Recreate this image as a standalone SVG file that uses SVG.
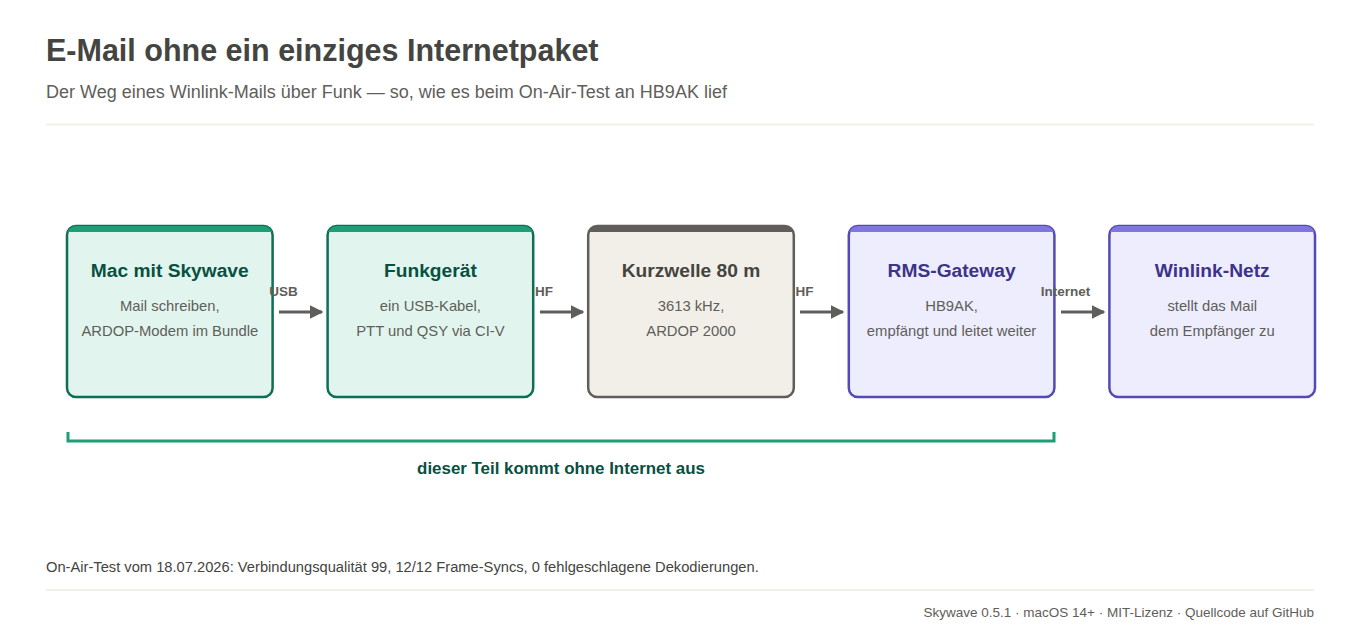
<svg xmlns="http://www.w3.org/2000/svg" width="1360" height="635" viewBox="0 0 1360 635">
<style>
text{font-family:"Liberation Sans",Arial,Helvetica,sans-serif}
.h1{font-size:30.5px;font-weight:700;fill:#444441}
.sub{font-size:18px;fill:#5F5E5A}
.sep{stroke:#F1EFE8;stroke-width:2}
.box{stroke-width:2.5}
.t{font-size:19.2px;font-weight:700;text-anchor:middle}
.d{font-size:14.8px;fill:#5F5E5A;text-anchor:middle}
.teal .box{fill:#E1F5EE;stroke:#0F6E56}
.teal .bar{fill:#1D9E75}
.teal .t{fill:#085041}
.gray .box{fill:#F1EFE8;stroke:#5F5E5A}
.gray .bar{fill:#5F5E5A}
.gray .t{fill:#444441}
.purple .box{fill:#EEEDFE;stroke:#534AB7}
.purple .bar{fill:#7F77DD}
.purple .t{fill:#3C3489}
.edge{stroke:#5F5E5A;stroke-width:3;fill:none}
.lbl{font-size:13.5px;font-weight:700;fill:#5F5E5A;text-anchor:middle}
.foot{font-size:14.7px;fill:#444441}
.foot2{font-size:13.5px;fill:#5F5E5A;text-anchor:end}
</style>
<defs>
<marker id="ah" viewBox="0 0 10 10" refX="9" refY="5" markerWidth="4.5" markerHeight="5" markerUnits="strokeWidth" orient="auto">
<path d="M0,0 L10,5 L0,10 z" fill="#5F5E5A"/>
</marker>
<clipPath id="c1"><rect x="67" y="226" width="205.6" height="171" rx="9"/></clipPath>
<clipPath id="c2"><rect x="327.6" y="226" width="205.6" height="171" rx="9"/></clipPath>
<clipPath id="c3"><rect x="588.2" y="226" width="205.6" height="171" rx="9"/></clipPath>
<clipPath id="c4"><rect x="848.8" y="226" width="205.6" height="171" rx="9"/></clipPath>
<clipPath id="c5"><rect x="1109.4" y="226" width="205.6" height="171" rx="9"/></clipPath>
</defs>
<rect width="1360" height="635" fill="#ffffff"/>
<g id="header">
<text class="h1" x="46" y="61">E-Mail ohne ein einziges Internetpaket</text>
<text class="sub" x="46" y="98">Der Weg eines Winlink-Mails über Funk — so, wie es beim On-Air-Test an HB9AK lief</text>
<line class="sep" x1="46" y1="124.5" x2="1314" y2="124.5"/>
</g>
<g id="node-mac" class="teal">
<rect class="box" x="67" y="226" width="205.6" height="171" rx="9"/>
<rect class="bar" x="67" y="226" width="205.6" height="6" clip-path="url(#c1)"/>
<text class="t" x="169.8" y="276.5">Mac mit Skywave</text>
<text class="d" x="169.8" y="311">Mail schreiben,</text>
<text class="d" x="169.8" y="336">ARDOP-Modem im Bundle</text>
</g>
<g id="node-funk" class="teal">
<rect class="box" x="327.6" y="226" width="205.6" height="171" rx="9"/>
<rect class="bar" x="327.6" y="226" width="205.6" height="6" clip-path="url(#c2)"/>
<text class="t" x="430.4" y="276.5">Funkgerät</text>
<text class="d" x="430.4" y="311">ein USB-Kabel,</text>
<text class="d" x="430.4" y="336">PTT und QSY via CI-V</text>
</g>
<g id="node-kw" class="gray">
<rect class="box" x="588.2" y="226" width="205.6" height="171" rx="9"/>
<rect class="bar" x="588.2" y="226" width="205.6" height="6" clip-path="url(#c3)"/>
<text class="t" x="691" y="276.5">Kurzwelle 80 m</text>
<text class="d" x="691" y="311">3613 kHz,</text>
<text class="d" x="691" y="336">ARDOP 2000</text>
</g>
<g id="node-rms" class="purple">
<rect class="box" x="848.8" y="226" width="205.6" height="171" rx="9"/>
<rect class="bar" x="848.8" y="226" width="205.6" height="6" clip-path="url(#c4)"/>
<text class="t" x="951.6" y="276.5">RMS-Gateway</text>
<text class="d" x="951.6" y="311">HB9AK,</text>
<text class="d" x="951.6" y="336">empfängt und leitet weiter</text>
</g>
<g id="node-winlink" class="purple">
<rect class="box" x="1109.4" y="226" width="205.6" height="171" rx="9"/>
<rect class="bar" x="1109.4" y="226" width="205.6" height="6" clip-path="url(#c5)"/>
<text class="t" x="1212.2" y="276.5">Winlink-Netz</text>
<text class="d" x="1212.2" y="311">stellt das Mail</text>
<text class="d" x="1212.2" y="336">dem Empfänger zu</text>
</g>
<g id="connectors">
<line class="edge" x1="279" y1="312" x2="322" y2="312" marker-end="url(#ah)"/>
<text class="lbl" x="283.5" y="296">USB</text>
<line class="edge" x1="540" y1="312" x2="583" y2="312" marker-end="url(#ah)"/>
<text class="lbl" x="544" y="296">HF</text>
<line class="edge" x1="800" y1="312" x2="843" y2="312" marker-end="url(#ah)"/>
<text class="lbl" x="804.5" y="296">HF</text>
<line class="edge" x1="1061" y1="312" x2="1104" y2="312" marker-end="url(#ah)"/>
<text class="lbl" x="1065.5" y="296">Internet</text>
</g>
<g id="bracket">
<path d="M68,432 V441 H1054 V432" fill="none" stroke="#1D9E75" stroke-width="3"/>
<text x="561" y="474" font-size="16.9" font-weight="700" fill="#085041" text-anchor="middle">dieser Teil kommt ohne Internet aus</text>
</g>
<g id="footer">
<text class="foot" x="46" y="572">On-Air-Test vom 18.07.2026: Verbindungsqualität 99, 12/12 Frame-Syncs, 0 fehlgeschlagene Dekodierungen.</text>
<line class="sep" x1="46" y1="590" x2="1314" y2="590"/>
<text class="foot2" x="1314" y="617">Skywave 0.5.1 · macOS 14+ · MIT-Lizenz · Quellcode auf GitHub</text>
</g>
</svg>
